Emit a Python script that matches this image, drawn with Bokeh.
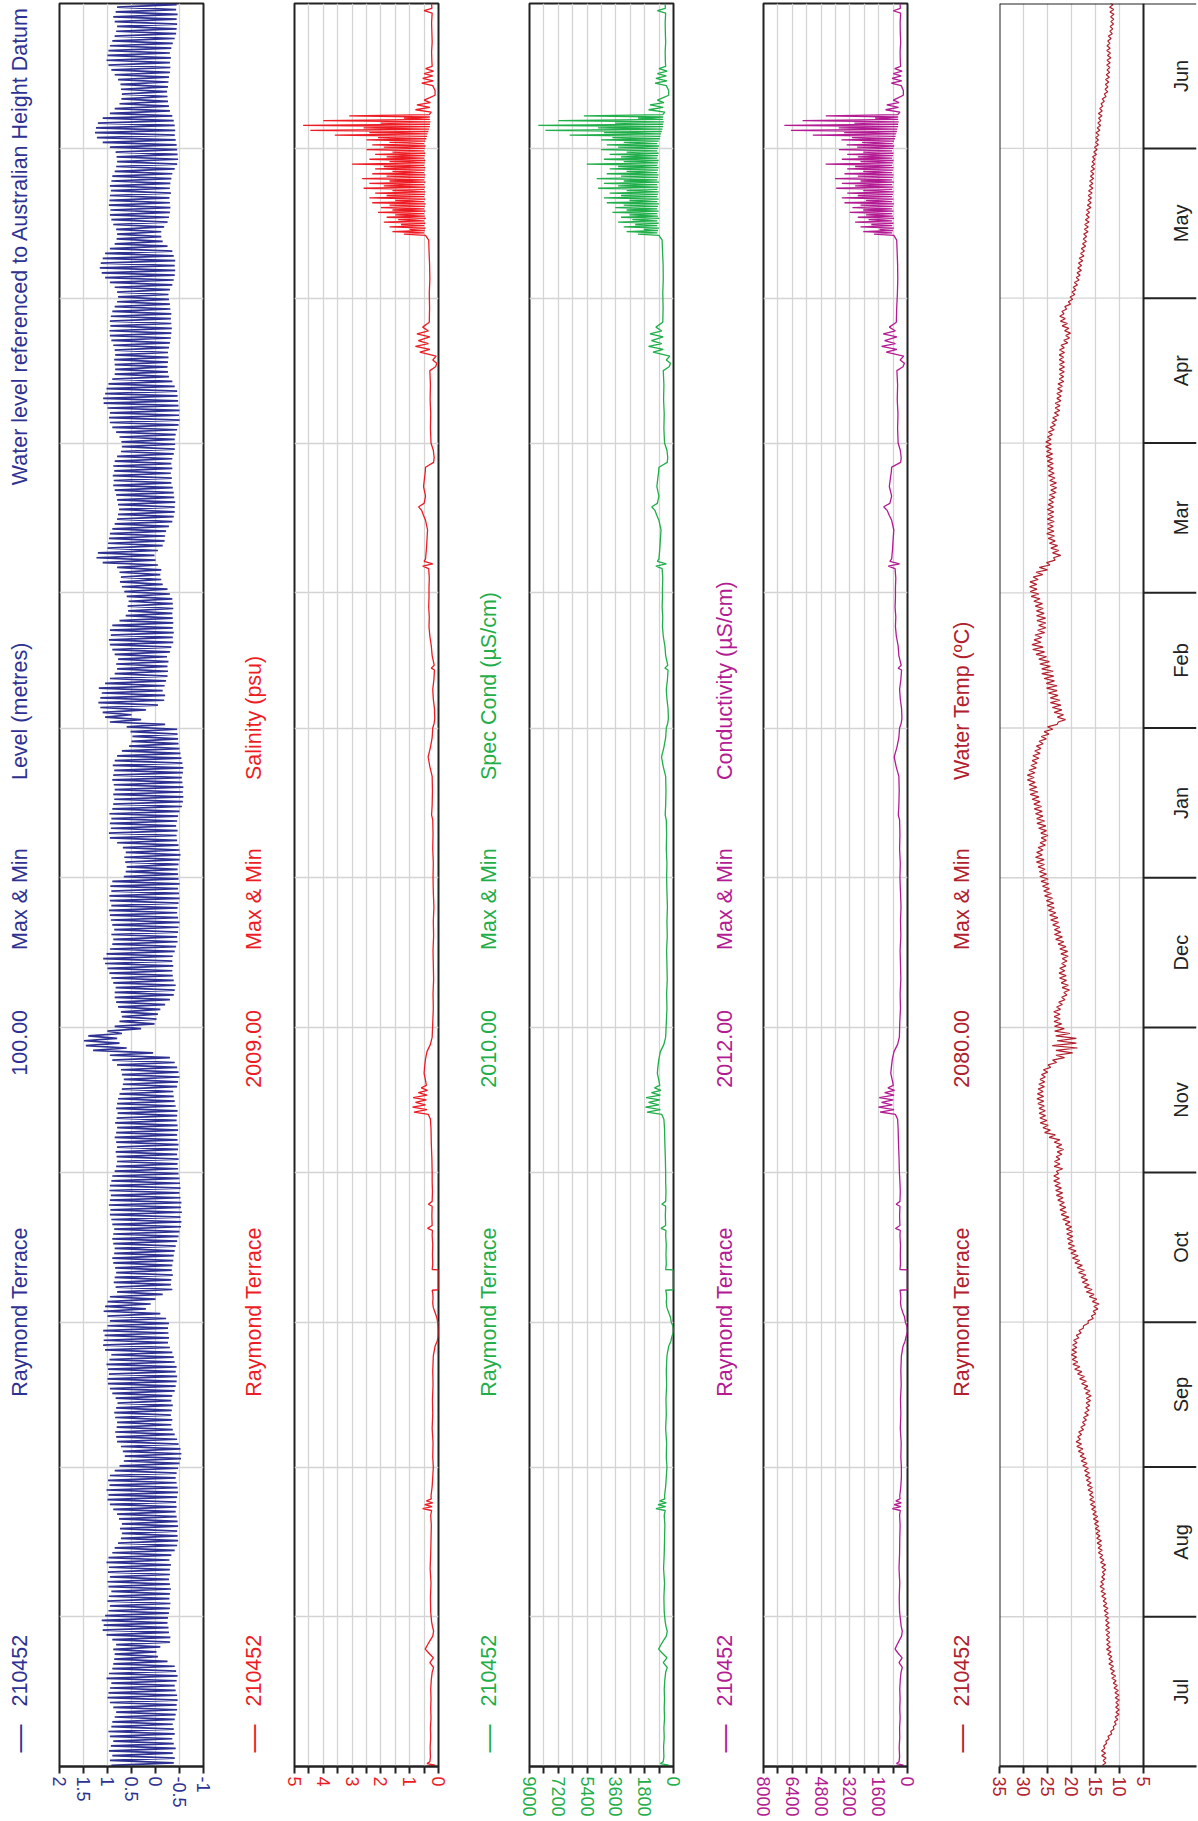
import math
from bokeh.plotting import figure
from bokeh.layouts import row
from bokeh.models import Range1d, FixedTicker, Span
from bokeh.core.properties import value
from bokeh.embed import file_html
from bokeh.resources import INLINE

# ---------------- data ----------------
months = ["Jul", "Aug", "Sep", "Oct", "Nov", "Dec", "Jan", "Feb", "Mar", "Apr", "May", "Jun"]
month_days = [31, 31, 30, 31, 30, 31, 31, 28, 31, 30, 31, 30]

# daily water level max / min (m AHD), day 0 = 1 Jul
level_max = [
    0.92, 0.95, 0.90, 0.97, 0.93, 0.88, 0.95, 0.98, 0.92, 0.90,
    0.85, 0.82, 0.88, 0.95, 1.00, 0.98, 0.95, 0.92, 1.02, 0.97,
    0.90, 0.88, 0.86, 0.85, 0.88, 0.82, 0.90, 1.02, 1.10, 1.08,
    1.12, 1.05, 0.98, 0.95, 1.00, 0.97, 0.92, 0.98, 1.00, 0.95,
    0.99, 0.97, 1.02, 0.98, 0.90, 0.85, 0.78, 0.72, 0.70, 0.74,
    0.70, 0.76, 0.80, 0.88, 0.95, 1.00, 0.98, 1.02, 0.96, 0.99,
    0.95, 0.85, 0.75, 0.66, 0.64, 0.68, 0.72, 0.80, 0.82, 0.84,
    0.81, 0.80, 0.84, 0.86, 0.82, 0.79, 0.83, 0.90, 0.95, 0.99,
    1.00, 0.97, 0.99, 1.02, 0.96, 0.92, 1.05, 1.09, 1.08, 1.06,
    1.09, 1.00, 0.95, 1.00, 1.08, 1.05, 1.00, 0.95, 0.80, 0.83,
    0.87, 0.85, 0.82, 0.84, 0.88, 0.90, 0.86, 0.85, 0.88, 0.90,
    0.88, 0.86, 0.90, 0.92, 0.95, 0.94, 0.97, 0.95, 0.93, 0.96,
    0.95, 0.92, 0.90, 0.85, 0.82, 0.80, 0.81, 0.83, 0.80, 0.82,
    0.85, 0.82, 0.80, 0.84, 0.81, 0.79, 0.82, 0.80, 0.78, 0.75,
    0.70, 0.68, 0.66, 0.70, 0.72, 0.80, 0.90, 0.95, 1.30, 1.45,
    1.49, 1.40, 1.00, 0.85, 0.75, 0.70, 0.72, 0.78, 0.82, 0.85,
    0.85, 0.83, 0.88, 0.92, 0.96, 1.00, 1.05, 1.09, 1.02, 0.95,
    0.90, 0.88, 0.92, 0.86, 0.90, 0.93, 0.95, 0.97, 0.92, 0.95,
    0.96, 0.92, 0.94, 0.90, 0.66, 0.62, 0.60, 0.63, 0.65, 0.62,
    0.68, 0.80, 0.95, 0.97, 0.93, 0.95, 0.92, 0.96, 0.90, 0.88,
    0.86, 0.88, 0.85, 0.87, 0.90, 0.88, 0.86, 0.89, 0.85, 0.80,
    0.70, 0.55, 0.50, 0.48, 0.52, 0.60, 0.95, 1.05, 1.10, 1.15,
    1.19, 1.15, 1.12, 1.18, 1.05, 0.95, 0.85, 0.80, 0.82, 0.78,
    0.85, 0.90, 0.95, 0.97, 0.93, 0.95, 0.90, 0.75, 0.62, 0.57,
    0.58, 0.56, 0.60, 0.65, 0.70, 0.74, 0.72, 0.75, 0.80, 1.10,
    1.23, 1.20, 1.00, 0.99, 0.97, 0.95, 0.90, 0.85, 0.80, 0.78,
    0.76, 0.78, 0.80, 0.82, 0.85, 0.88, 0.87, 0.89, 0.86, 0.88,
    0.85, 0.80, 0.72, 0.70, 0.71, 0.75, 0.82, 0.90, 0.95, 0.97,
    0.95, 1.00, 1.08, 1.09, 1.05, 1.02, 0.98, 0.90, 0.85, 0.84,
    0.85, 0.86, 0.84, 0.85, 0.88, 0.92, 0.95, 0.96, 0.94, 0.95,
    0.93, 0.90, 0.85, 0.80, 0.78, 0.80, 0.85, 0.95, 1.05, 1.12,
    1.16, 1.14, 1.10, 1.05, 0.95, 0.85, 0.81, 0.80, 0.82, 0.88,
    0.92, 0.95, 0.94, 0.97, 0.96, 0.95, 0.93, 0.95, 0.92, 0.90,
    0.85, 0.82, 0.80, 0.81, 0.83, 0.95, 1.10, 1.22, 1.26, 1.24,
    1.20, 1.10, 0.95, 0.85, 0.75, 0.71, 0.70, 0.72, 0.73, 0.78,
    0.85, 0.92, 0.98, 1.02, 1.00, 0.98, 0.95, 0.90, 0.85, 0.82,
    0.80, 0.85, 0.88, 0.83, 0.80, 0.84,
]
level_min = [
    -0.38, -0.40, -0.36, -0.42, -0.38, -0.35, -0.40, -0.38, -0.36, -0.40,
    -0.42, -0.45, -0.44, -0.46, -0.45, -0.42, -0.40, -0.44, -0.46, -0.43,
    -0.40, -0.25, -0.05, -0.02, -0.10, -0.30, -0.31, -0.28, -0.27, -0.25,
    -0.26, -0.28, -0.30, -0.31, -0.29, -0.30, -0.32, -0.30, -0.28, -0.30,
    -0.30, -0.32, -0.29, -0.33, -0.40, -0.45, -0.47, -0.46, -0.45, -0.47,
    -0.46, -0.44, -0.42, -0.44, -0.43, -0.45, -0.47, -0.46, -0.44, -0.42,
    -0.44, -0.47, -0.50, -0.53, -0.54, -0.52, -0.48, -0.45, -0.40, -0.36,
    -0.33, -0.35, -0.32, -0.34, -0.36, -0.33, -0.35, -0.40, -0.42, -0.44,
    -0.45, -0.42, -0.44, -0.40, -0.38, -0.35, -0.30, -0.26, -0.28, -0.27,
    -0.26, -0.28, -0.22, -0.10, 0.20, 0.10, 0.00, -0.15, -0.35, -0.32,
    -0.33, -0.36, -0.34, -0.35, -0.37, -0.38, -0.40, -0.42, -0.45, -0.48,
    -0.50, -0.53, -0.54, -0.52, -0.55, -0.53, -0.54, -0.52, -0.50, -0.52,
    -0.51, -0.50, -0.48, -0.47, -0.46, -0.48, -0.45, -0.47, -0.48, -0.46,
    -0.45, -0.47, -0.46, -0.44, -0.45, -0.46, -0.42, -0.40, -0.38, -0.37,
    -0.45, -0.47, -0.50, -0.48, -0.45, -0.40, -0.30, 0.05, 0.60, 0.75,
    0.80, 0.70, 0.30, 0.02, -0.02, -0.05, -0.10, -0.20, -0.30, -0.38,
    -0.40, -0.42, -0.38, -0.36, -0.35, -0.37, -0.35, -0.36, -0.40, -0.43,
    -0.46, -0.45, -0.47, -0.48, -0.50, -0.47, -0.45, -0.46, -0.48, -0.50,
    -0.49, -0.47, -0.50, -0.48, -0.47, -0.46, -0.48, -0.50, -0.52, -0.50,
    -0.48, -0.45, -0.44, -0.46, -0.43, -0.45, -0.47, -0.50, -0.55, -0.57,
    -0.58, -0.57, -0.58, -0.56, -0.55, -0.57, -0.58, -0.56, -0.54, -0.52,
    -0.50, -0.48, -0.47, -0.46, -0.45, -0.20, 0.30, 0.50, 0.20, -0.05,
    -0.18, -0.20, -0.15, -0.19, -0.22, -0.25, -0.26, -0.25, -0.27, -0.24,
    -0.30, -0.33, -0.37, -0.36, -0.38, -0.36, -0.37, -0.36, -0.35, -0.37,
    -0.36, -0.35, -0.30, -0.25, -0.15, -0.12, -0.10, -0.12, -0.05, 0.00,
    0.02, -0.05, -0.15, -0.19, -0.20, -0.22, -0.28, -0.35, -0.38, -0.40,
    -0.40, -0.41, -0.39, -0.38, -0.36, -0.33, -0.34, -0.32, -0.35, -0.33,
    -0.35, -0.38, -0.40, -0.41, -0.40, -0.42, -0.45, -0.48, -0.50, -0.49,
    -0.50, -0.48, -0.47, -0.46, -0.45, -0.40, -0.35, -0.28, -0.26, -0.25,
    -0.26, -0.27, -0.26, -0.28, -0.30, -0.32, -0.33, -0.34, -0.33, -0.32,
    -0.33, -0.31, -0.30, -0.28, -0.27, -0.30, -0.35, -0.38, -0.40, -0.41,
    -0.40, -0.41, -0.38, -0.35, -0.25, -0.15, -0.12, -0.12, -0.18, -0.25,
    -0.28, -0.30, -0.31, -0.30, -0.29, -0.32, -0.30, -0.31, -0.33, -0.35,
    -0.40, -0.45, -0.47, -0.46, -0.45, -0.44, -0.42, -0.40, -0.41, -0.40,
    -0.38, -0.35, -0.30, -0.28, -0.26, -0.25, -0.24, -0.26, -0.27, -0.28,
    -0.30, -0.31, -0.30, -0.32, -0.30, -0.33, -0.36, -0.40, -0.43, -0.44,
    -0.45, -0.44, -0.46, -0.43, -0.44, -0.45,
]

# water-quality samples (day from 1 Jul)
t_wq = [
    0, 0.3, 0.6, 1, 2, 4, 6, 8, 10, 12, 14, 16, 18, 19.5, 20.5, 21.5, 22.5, 23.5, 24.3, 25, 26, 27, 28, 29, 30,
    32, 35, 38, 41, 44, 47, 50, 52, 53, 53.4, 53.8, 54.2, 54.6, 55, 55.4, 56, 58, 60,
    62, 64, 67, 70, 73, 76, 79, 82, 85, 87, 88, 89, 90, 91,
    92, 93, 94, 95, 96, 97, 98, 98.6, 98.7, 102.8, 102.9, 104, 106, 108, 110, 111, 111.4, 112, 114, 116, 116.4, 117, 119, 121,
    123, 126, 129, 132, 134, 135, 135.5, 136, 136.5, 137, 137.5, 138, 138.5, 139, 139.5, 140, 140.5, 141, 142, 143.5, 145, 146.5, 148, 149.5, 151,
    154, 157, 160, 163, 166, 169, 172, 175, 178, 181,
    184, 187, 190, 193, 196, 197, 199, 202, 205, 207, 209, 211, 213,
    215, 216, 217, 219, 221, 223, 225, 227, 227.4, 228, 230, 232, 234, 236, 238, 240, 242,
    244, 246, 248, 248.5, 249, 249.5, 250, 252, 254, 256, 258, 259, 260, 260.8, 261.5, 263, 265, 267, 268, 269, 270, 271, 272.5,
    274, 277, 280, 283, 286, 289, 289.8, 290.5, 291.2, 292, 292.8, 293.4, 294, 294.6, 295.2, 296, 296.6, 297.2, 298, 299, 302,
    305, 308, 311, 314, 316,
    317, 317.25, 317.5, 317.75, 318, 318.25, 318.5, 318.75, 319, 319.25, 319.5, 319.75,
    320, 320.25, 320.5, 320.75, 321, 321.25, 321.5, 321.75, 322, 322.25, 322.5, 322.75,
    323, 323.25, 323.5, 323.75, 324, 324.25, 324.5, 324.75, 325, 325.25, 325.5, 325.75,
    326, 326.25, 326.5, 326.75, 327, 327.25, 327.5, 327.75, 328, 328.25, 328.5, 328.75,
    329, 329.25, 329.5, 329.75, 330, 330.25, 330.5, 330.75, 331, 331.25, 331.5, 331.75,
    332, 332.25, 332.5, 332.75, 333, 333.25, 333.5, 333.75, 334, 334.25, 334.5, 334.75,
    335, 335.25, 335.5, 335.75, 336, 336.25, 336.5, 336.75, 337, 337.25, 337.5, 337.75,
    338, 338.25, 338.5, 338.75, 339, 339.25, 339.5, 339.75, 340, 340.25, 340.5, 340.75,
    341, 341.25, 341.5, 341.75, 342,
    342.5, 343, 343.5, 344, 344.5, 345, 345.5, 346, 347, 348, 348.5, 349, 349.5, 350, 350.5, 351, 351.5, 352, 353, 355, 357, 359, 361, 363, 363.5, 364, 365,
]
salinity = [
    .42, .12, .40, .30, .28, .29, .27, .28, .26, .27, .26, .27, .25, .22, .17, .30, .18, .34, .46, .40, .30, .20, .17, .21, .24,
    .27, .28, .26, .29, .27, .26, .25, .27, .24, .55, .22, .48, .20, .42, .25, .26, .22, .20,
    .18, .20, .19, .22, .20, .21, .19, .20, .18, .12, .05, .01, 0, .01,
    .03, .06, .12, .18, .20, .19, .20, .22, 0, 0, .22, .20, .21, .20, .22, .21, .38, .22, .23, .22, .35, .22, .21, .22,
    .22, .23, .25, .26, .28, .35, .85, .40, .90, .45, .80, .42, .88, .40, .70, .38, .60, .42, .45, .50, .48, .45, .40, .28, .22,
    .20, .18, .19, .17, .18, .19, .17, .18, .16, .18,
    .19, .18, .20, .19, .20, .24, .22, .21, .22, .30, .36, .28, .22,
    .20, .15, .13, .14, .18, .20, .16, .14, .25, .15, .22, .25, .30, .33, .32, .34, .33,
    .33, .32, .34, .55, .20, .50, .45, .42, .40, .38, .45, .52, .58, .69, .50, .45, .52, .48, .46, .45, .17, .15, .18,
    .26, .28, .27, .29, .28, .30, .10, .06, .20, .08, .65, .30, .80, .35, .70, .30, .75, .35, .55, .32, .31,
    .32, .30, .31, .33, .34,
    .45, 1.2, .50, 1.6, .48, 1.0, .45, 1.7, .50, 1.3, .46, 1.9,
    .50, 1.4, .44, 1.8, .48, 1.5, .50, 2.1, .46, 1.6, .50, 2.0,
    .48, 1.7, .45, 2.3, .50, 1.5, .46, 2.4, .50, 1.8, .48, 2.2,
    .46, 1.6, .50, 2.6, .47, 1.9, .50, 2.4, .45, 1.7, .50, 2.65,
    .48, 1.8, .46, 2.3, .50, 1.6, .48, 2.2, .46, 1.9, .50, 3.0,
    .48, 1.7, .46, 2.4, .50, 1.8, .48, 2.2, .46, 1.6, .50, 2.5,
    .48, 1.9, .45, 2.3, .50, 1.7, .46, 2.5, .42, 2.1, .40, 3.6,
    .38, 2.4, .35, 4.45, .33, 2.6, .30, 4.7, .30, 2.0, .28, 4.0,
    .30, 1.2, .30, 3.1, .32,
    .25, .80, .30, .75, .28, .50, .30, .12, .12, .20, .58, .18, .55, .20, .50, .17, .45, .22, .23, .24, .22, .23, .24, .22, .50, .23, .24,
]
spec_cond = [
    860, 300, 820, 640, 600, 620, 580, 600, 560, 580, 560, 580, 540, 490, 390, 640, 410, 710, 930, 820, 640, 450, 390, 470, 520,
    580, 600, 560, 620, 580, 560, 540, 580, 520, 1100, 490, 970, 450, 860, 540, 560, 490, 450,
    410, 450, 430, 490, 450, 470, 430, 450, 410, 300, 170, 100, 0, 20,
    140, 190, 300, 410, 450, 430, 450, 490, 0, 0, 490, 450, 470, 450, 490, 470, 780, 490, 510, 490, 730, 490, 470, 490,
    490, 510, 540, 560, 600, 730, 1650, 820, 1750, 910, 1560, 860, 1710, 820, 1380, 780, 1190, 860, 910, 1010, 970, 910, 820, 600, 490,
    450, 410, 430, 390, 410, 430, 390, 410, 380, 410,
    430, 410, 450, 430, 450, 520, 490, 470, 490, 640, 750, 600, 490,
    450, 360, 320, 340, 410, 450, 380, 340, 540, 360, 490, 540, 640, 690, 670, 710, 690,
    690, 670, 710, 1100, 450, 1010, 910, 860, 820, 780, 910, 1040, 1150, 1360, 1010, 910, 1040, 970, 930, 910, 390, 360, 410,
    560, 600, 580, 620, 600, 640, 270, 190, 450, 230, 1280, 640, 1560, 730, 1380, 640, 1470, 730, 1100, 670, 650,
    670, 640, 650, 690, 710,
    910, 2220, 1010, 2930, 970, 1860, 910, 3110, 1010, 2390, 930, 3460,
    1010, 2570, 890, 3280, 970, 2750, 1010, 3820, 930, 2930, 1010, 3640,
    970, 3110, 910, 4170, 1010, 2750, 930, 4350, 1010, 3280, 970, 3990,
    930, 2930, 1010, 4710, 950, 3460, 1010, 4350, 910, 3110, 1010, 4800,
    970, 3280, 930, 4170, 1010, 2930, 970, 3990, 930, 3460, 1010, 5420,
    970, 3110, 930, 4350, 1010, 3280, 970, 3990, 930, 2930, 1010, 4530,
    970, 3460, 910, 4170, 1010, 3110, 930, 4530, 860, 3820, 820, 6490,
    780, 4350, 730, 8000, 690, 4710, 640, 8450, 640, 3640, 600, 7200,
    640, 2220, 640, 5600, 670,
    540, 1560, 640, 1470, 600, 1010, 640, 300, 300, 450, 1150, 410, 1100, 450, 1010, 390, 910, 490, 510, 520, 490, 510, 520, 490, 1010, 510, 520,
]
conductivity = [
    640, 220, 610, 470, 440, 460, 430, 440, 410, 430, 410, 430, 400, 360, 290, 470, 300, 530, 690, 610, 470, 330, 290, 350, 380,
    440, 460, 430, 470, 440, 430, 410, 440, 400, 840, 370, 740, 340, 650, 410, 430, 370, 340,
    340, 370, 350, 400, 370, 390, 350, 370, 340, 250, 140, 80, 0, 20,
    120, 160, 260, 350, 390, 370, 390, 420, 0, 0, 420, 390, 400, 390, 420, 400, 670, 420, 440, 420, 630, 420, 400, 420,
    450, 470, 500, 520, 550, 670, 1520, 750, 1610, 840, 1440, 790, 1570, 750, 1270, 720, 1090, 790, 840, 930, 890, 840, 750, 550, 450,
    430, 390, 410, 370, 390, 410, 370, 390, 360, 390,
    420, 400, 440, 420, 440, 510, 480, 460, 480, 630, 740, 590, 480,
    440, 350, 310, 330, 400, 440, 370, 330, 520, 350, 480, 520, 620, 670, 650, 690, 670,
    670, 650, 690, 1070, 440, 980, 880, 830, 800, 760, 880, 1010, 1120, 1320, 980, 880, 1010, 940, 900, 880, 380, 350, 400,
    520, 550, 530, 570, 550, 590, 250, 170, 410, 210, 1180, 590, 1440, 670, 1270, 590, 1350, 670, 1010, 620, 600,
    560, 540, 550, 580, 600,
    760, 1860, 850, 2460, 810, 1560, 760, 2610, 850, 2010, 780, 2910,
    850, 2160, 750, 2760, 810, 2310, 850, 3210, 780, 2460, 850, 3060,
    810, 2610, 760, 3500, 850, 2310, 780, 3650, 850, 2760, 810, 3350,
    780, 2460, 850, 3960, 800, 2910, 850, 3650, 760, 2610, 850, 4030,
    810, 2760, 780, 3500, 850, 2460, 810, 3350, 780, 2910, 850, 4550,
    810, 2610, 780, 3650, 850, 2760, 810, 3350, 780, 2460, 850, 3810,
    790, 2800, 740, 3380, 820, 2520, 750, 3670, 700, 3090, 660, 5260,
    630, 3520, 590, 6480, 560, 3820, 520, 6840, 520, 2950, 490, 5830,
    520, 1800, 520, 4540, 540,
    420, 1220, 500, 1150, 470, 790, 500, 230, 230, 350, 900, 320, 860, 350, 790, 300, 710, 380, 400, 410, 380, 400, 410, 380, 790, 400, 410,
]

# daily water temperature: mean and daily range (max - min), degC
temp_mean = [
    13.2, 13.1, 13.3, 13.4, 13.0, 12.5, 12.0, 11.5, 11.0, 10.7,
    10.5, 10.4, 10.5, 10.4, 10.5, 10.6, 10.8, 11.0, 11.2, 11.4,
    11.6, 11.8, 11.9, 12.1, 12.3, 12.3, 12.4, 12.4, 12.5, 12.5,
    12.6, 12.7, 12.8, 13.0, 13.1, 13.3, 13.5, 13.7, 13.5, 13.4,
    13.2, 13.3, 13.6, 13.8, 14.0, 14.1, 14.2, 14.4, 14.5, 14.7,
    14.8, 15.0, 15.2, 15.4, 15.6, 15.8, 15.9, 16.1, 16.3, 16.5,
    16.7, 16.9, 17.2, 17.5, 17.8, 18.1, 18.4, 18.6, 18.3, 18.0,
    17.6, 17.3, 17.0, 16.8, 16.6, 16.5, 16.4, 16.6, 17.0, 17.4,
    17.8, 18.3, 18.8, 19.2, 19.4, 19.5, 19.4, 19.3, 19.0, 18.5,
    18.0, 17.0, 16.0, 15.4, 15.0, 14.8, 15.2, 15.8, 16.3, 16.8,
    17.2, 17.5, 17.9, 18.3, 18.8, 19.2, 19.6, 20.0, 20.2, 20.3,
    20.4, 20.5, 20.8, 21.2, 21.6, 21.8, 22.0, 22.3, 22.5, 22.7,
    22.9, 23.1, 23.2, 22.5, 23.0, 23.0, 22.6, 22.3, 22.6, 23.0,
    24.0, 25.0, 25.4, 25.8, 26.0, 26.1, 26.2, 26.4, 26.5, 26.5,
    26.3, 26.2, 26.0, 25.6, 25.1, 24.0, 22.7, 21.5, 21.0, 21.5,
    21.0, 21.8, 22.5, 22.8, 23.0, 23.0, 23.0, 22.5, 22.0, 21.5,
    21.0, 21.3, 21.6, 21.8, 22.0, 21.8, 21.5, 21.3, 21.5, 21.8,
    22.2, 22.6, 22.9, 23.0, 23.3, 23.6, 23.9, 24.2, 24.4, 24.6,
    24.9, 25.2, 25.4, 25.6, 25.9, 26.1, 26.3, 26.5, 26.8, 26.6,
    26.2, 25.9, 25.6, 25.8, 26.1, 26.4, 26.6, 26.8, 27.0, 27.2,
    27.5, 27.8, 28.0, 28.2, 28.5, 28.4, 28.1, 27.8, 27.5, 27.3,
    27.0, 26.6, 26.0, 25.5, 24.8, 24.0, 22.0, 22.3, 22.8, 23.1,
    23.4, 23.6, 23.9, 24.1, 24.4, 24.7, 25.0, 25.3, 25.6, 26.0,
    26.5, 27.0, 27.3, 27.0, 26.6, 26.2, 26.1, 26.3, 26.5, 26.6,
    26.8, 27.2, 27.6, 27.9, 28.0, 27.8, 27.0, 26.2, 25.6, 24.3,
    23.0, 23.3, 23.6, 24.0, 24.2, 24.4, 24.4, 24.3, 24.4, 24.3,
    24.4, 24.3, 24.1, 23.9, 23.7, 23.8, 24.0, 24.2, 24.3, 24.4,
    24.5, 24.6, 24.7, 24.8, 24.8, 24.5, 24.2, 23.9, 23.6, 23.3,
    23.0, 22.9, 22.8, 22.6, 22.5, 22.4, 22.2, 22.1, 22.0, 22.0,
    22.0, 22.1, 22.0, 22.0, 21.5, 21.0, 20.7, 21.0, 21.4, 21.8,
    22.0, 21.5, 20.8, 20.2, 19.8, 19.5, 19.2, 18.9, 18.6, 18.4,
    18.3, 18.1, 17.9, 17.7, 17.5, 17.3, 17.2, 17.0, 16.9, 16.8,
    16.7, 16.6, 16.4, 16.3, 16.2, 16.1, 16.0, 15.9, 15.8, 15.7,
    15.6, 15.5, 15.4, 15.2, 15.0, 14.8, 14.7, 14.6, 14.5, 14.3,
    14.2, 14.0, 14.0, 13.8, 13.5, 13.2, 12.8, 12.7, 12.6, 12.5,
    12.4, 12.3, 12.3, 12.2, 12.2, 12.3, 12.3, 12.1, 11.9, 11.7,
    11.6, 11.5, 11.5, 11.6, 11.7, 11.8,
]
temp_range = [
    0.7, 0.6, 0.8, 0.7, 0.6, 0.7, 0.8, 0.7, 0.6, 0.7,
    0.8, 0.7, 0.6, 0.7, 0.8, 0.7, 0.7, 0.6, 0.8, 0.7,
    0.7, 0.8, 0.6, 0.7, 0.8, 0.7, 0.6, 0.7, 0.8, 0.7,
    0.6, 0.7, 0.8, 0.7, 0.6, 0.8, 0.7, 0.7, 0.8, 0.6,
    0.7, 0.8, 0.7, 0.6, 0.8, 0.7, 0.9, 0.7, 0.8, 0.7,
    0.8, 0.9, 0.7, 0.8, 0.9, 0.8, 0.7, 0.9, 0.8, 0.8,
    0.9, 0.8, 0.9, 1.0, 0.8, 0.9, 1.0, 0.9, 0.8, 1.0,
    0.9, 0.8, 1.0, 0.9, 0.8, 0.9, 1.0, 0.9, 0.8, 1.0,
    1.0, 0.9, 1.1, 1.0, 0.9, 1.1, 1.0, 0.9, 1.1, 1.0,
    0.9, 1.0, 1.1, 0.9, 1.0, 1.1, 0.9, 1.0, 1.2, 1.0,
    1.1, 1.0, 1.2, 1.1, 1.0, 1.2, 1.1, 1.3, 1.0, 1.1,
    1.2, 1.1, 1.0, 1.3, 1.1, 1.2, 1.0, 1.1, 1.3, 1.2,
    1.1, 1.2, 1.0, 1.3, 1.2, 1.1, 1.2, 1.3, 1.1, 1.2,
    1.3, 1.2, 1.1, 1.4, 1.2, 1.3, 1.1, 1.2, 1.4, 1.2,
    1.3, 1.2, 1.1, 1.3, 1.5, 1.8, 2.5, 3.5, 4.5, 5.0,
    4.0, 3.0, 2.0, 1.5, 1.3, 1.2, 1.4, 1.2, 1.3, 1.1,
    1.2, 1.3, 1.1, 1.4, 1.2, 1.3, 1.1, 1.2, 1.4, 1.3,
    1.2, 1.4, 1.3, 1.1, 1.2, 1.5, 1.3, 1.2, 1.4, 1.3,
    1.4, 1.2, 1.3, 1.5, 1.4, 1.2, 1.3, 1.6, 1.4, 1.3,
    1.5, 1.3, 1.4, 1.2, 1.5, 1.6, 1.3, 1.4, 1.5, 1.3,
    1.4, 1.6, 1.5, 1.3, 1.4, 1.6, 1.5, 1.3, 1.4, 1.5,
    1.3, 1.4, 1.5, 1.6, 1.8, 2.0, 1.5, 1.3, 1.6, 1.8,
    2.0, 1.6, 1.8, 2.2, 1.7, 2.0, 2.4, 1.8, 2.0, 1.6,
    1.8, 2.2, 1.9, 1.6, 2.0, 1.7, 1.5, 1.8, 1.6, 1.4,
    1.5, 1.3, 1.6, 1.4, 1.5, 1.7, 2.0, 2.4, 2.2, 1.8,
    1.5, 1.3, 1.4, 1.2, 1.3, 1.5, 1.2, 1.4, 1.3, 1.2,
    1.3, 1.1, 1.2, 1.4, 1.2, 1.3, 1.1, 1.2, 1.0, 1.2,
    1.1, 1.3, 1.0, 1.2, 1.1, 1.0, 1.2, 1.1, 1.0, 1.2,
    1.1, 1.0, 1.2, 0.9, 1.1, 1.0, 1.2, 0.9, 1.0, 1.1,
    1.0, 0.9, 1.1, 1.0, 1.4, 1.2, 1.0, 0.9, 1.1, 1.0,
    0.9, 1.0, 1.2, 0.9, 1.0, 0.8, 0.9, 1.0, 0.8, 0.9,
    0.8, 0.9, 1.0, 0.8, 0.9, 0.8, 0.7, 0.9, 0.8, 0.9,
    0.8, 0.7, 0.9, 0.8, 0.7, 0.8, 0.9, 0.7, 0.8, 0.7,
    0.8, 0.7, 0.6, 0.8, 0.7, 0.8, 0.6, 0.7, 0.8, 0.7,
    0.6, 0.7, 0.8, 0.6, 0.7, 0.8, 0.7, 0.6, 0.7, 0.8,
    0.7, 0.6, 0.7, 0.8, 0.6, 0.7, 0.6, 0.7, 0.8, 0.6,
    0.7, 0.6, 0.7, 0.8, 0.7, 0.6,
]

# axis ticks
level_ticks = [-1, -0.5, 0, 0.5, 1, 1.5, 2]
sal_ticks = [0, 1, 2, 3, 4, 5]
sal_minor = [0.5, 1.5, 2.5, 3.5, 4.5]
spc_ticks = [0, 1800, 3600, 5400, 7200, 9000]
spc_minor = [900, 2700, 4500, 6300, 8100]
cnd_ticks = [0, 1600, 3200, 4800, 6400, 8000]
cnd_minor = [800, 2400, 4000, 5600, 7200]
temp_ticks = [5, 10, 15, 20, 25, 30, 35]

# ---------------- styling / layout ----------------
FONT = "Liberation Sans"
H = 1819          # frame spans y = 3 .. 1767
TOP = 3
BOT = 52
FRAME_W = 144
PAD = 10          # room for edge tick labels
GRID = "#d4d4d4"
INK = "#222222"
BLUE = "#2e3192"
RED = "#ed1c24"
GREEN = "#1fae49"
MAGENTA = "#b31b93"
DARKRED = "#b1202d"
TXT = "21.5px"

bounds = [0]
for d in month_days:
    bounds.append(bounds[-1] + d)
NDAYS = bounds[-1]


def base_fig(width, xr, yr, left=0, right=0):
    p = figure(width=width, height=H, x_range=xr, y_range=yr,
               output_backend="svg", toolbar_location=None,
               min_border_left=left, min_border_right=right,
               min_border_top=TOP, min_border_bottom=BOT)
    p.background_fill_color = "white"
    p.border_fill_color = "white"
    p.yaxis.visible = False
    return p


def style_axis(p, ticks, minor, color):
    ax = p.xaxis[0]
    ax.ticker = FixedTicker(ticks=ticks, minor_ticks=minor)
    ax.major_label_overrides = {v: "%g" % v for v in ticks}
    ax.major_label_orientation = "vertical"
    ax.major_label_text_font = FONT
    ax.major_label_text_font_size = "18px"
    ax.major_label_text_color = color
    ax.major_label_standoff = 3
    ax.axis_line_color = INK
    ax.axis_line_width = 2
    ax.major_tick_in = 0
    ax.major_tick_out = 7
    ax.major_tick_line_color = INK
    ax.major_tick_line_width = 2
    ax.minor_tick_in = 0
    ax.minor_tick_out = 7
    ax.minor_tick_line_color = INK
    ax.minor_tick_line_width = 2
    p.xgrid.grid_line_color = GRID
    p.xgrid.grid_line_width = 1.3
    p.xgrid.minor_grid_line_color = GRID if minor else None
    p.xgrid.minor_grid_line_width = 1.3


def panel(lo, hi, ticks, minor, color):
    p = base_fig(FRAME_W + 2 * PAD, Range1d(hi, lo), Range1d(0, NDAYS), PAD, PAD)
    p.outline_line_color = INK
    p.outline_line_width = 2
    style_axis(p, ticks, minor, color)
    p.ygrid.ticker = FixedTicker(ticks=bounds)
    p.ygrid.grid_line_color = GRID
    p.ygrid.grid_line_width = 1.3
    return p


def strip(width, xc, color, number, param, extra=None):
    p = base_fig(width, Range1d(0, width), Range1d(1767, 3))
    p.xaxis.visible = False
    p.grid.visible = False
    p.outline_line_color = None
    items = [("210452", 1707, "left"), ("Raymond Terrace", 1397, "left"),
             (number, 1010, "right"), ("Max & Min", 950, "left"), (param, 780, "left")]
    if extra:
        items.append((extra, 485, "left"))
    for txt, y, al in items:
        p.text(x=[xc], y=[y], text=[txt], angle=math.pi / 2, text_align=al,
               text_baseline="middle", text_font=value(FONT), text_font_size=TXT,
               text_color=color)
    p.text(x=[xc - 1], y=[1753], text=["—"], angle=math.pi / 2, text_align="left",
           text_baseline="middle", text_font=value(FONT), text_font_size="28px",
           text_color=color)
    return p


# ---- panel 1: level
p1 = panel(-1, 2, level_ticks, [], BLUE)
lx, ly = [], []
for i in range(len(level_max)):
    lx += [level_max[i], level_min[i]]
    ly += [i + 0.25, i + 0.75]
p1.line(lx, ly, line_color=BLUE, line_width=1.7)

n = min(len(t_wq), len(salinity), len(spec_cond), len(conductivity))

# ---- panel 2: salinity
p2 = panel(0, 5, sal_ticks, sal_minor, RED)
p2.line(salinity[:n], t_wq[:n], line_color=RED, line_width=1.3)

# ---- panel 3: spec cond
p3 = panel(0, 9000, spc_ticks, spc_minor, GREEN)
p3.line(spec_cond[:n], t_wq[:n], line_color=GREEN, line_width=1.3)

# ---- panel 4: conductivity
p4 = panel(0, 8000, cnd_ticks, cnd_minor, MAGENTA)
p4.line(conductivity[:n], t_wq[:n], line_color=MAGENTA, line_width=1.3)

# ---- panel 5: temperature, with the month column on its right
T_LO, T_HI = 5, 35
px_per_deg = FRAME_W / (T_HI - T_LO)
MONTH_W = 53
t_end = T_LO - MONTH_W / px_per_deg
p5 = base_fig(PAD + FRAME_W + MONTH_W + 1, Range1d(T_HI, t_end), Range1d(0, NDAYS), PAD, 1)
p5.outline_line_color = None
style_axis(p5, temp_ticks, [], DARKRED)
p5.ygrid.visible = False
inner = bounds[1:-1]
p5.segment(x0=[T_HI] * len(inner), x1=[T_LO] * len(inner), y0=inner, y1=inner,
           line_color=GRID, line_width=1.3)
p5.segment(x0=[T_LO] * len(inner), x1=[t_end] * len(inner), y0=inner, y1=inner,
           line_color=INK, line_width=2)
tx, ty = [], []
for i in range(len(temp_mean)):
    tx += [temp_mean[i] + temp_range[i] / 2, temp_mean[i] - temp_range[i] / 2]
    ty += [i + 0.25, i + 0.75]
p5.line(tx, ty, line_color=DARKRED, line_width=1.2)
for loc, dim in [(T_HI, "height"), (T_LO, "height"), (0, "width"), (NDAYS, "width")]:
    p5.add_layout(Span(location=loc, dimension=dim, line_color=INK, line_width=2))
mids = [(bounds[i] + bounds[i + 1]) / 2 for i in range(12)]
p5.text(x=[T_LO - 37 / px_per_deg] * 12, y=mids, text=months, angle=math.pi / 2,
        text_align="center", text_baseline="middle", text_font=value(FONT),
        text_font_size="20px", text_color=INK)

# ---- strips (legend text columns)
s1 = strip(49, 19, BLUE, "100.00", "Level (metres)",
           "Water level referenced to Australian Height Datum")
s2 = strip(71, 40, RED, "2009.00", "Salinity (psu)")
s3 = strip(71, 40, GREEN, "2010.00", "Spec Cond (µS/cm)")
s4 = strip(70, 41, MAGENTA, "2012.00", "Conductivity (µS/cm)")
s5 = strip(72, 44, DARKRED, "2080.00", "Water Temp (ºC)")

layout = row(s1, p1, s2, p2, s3, p3, s4, p4, s5, p5)
open("out.html", "w").write(file_html(layout, INLINE))
